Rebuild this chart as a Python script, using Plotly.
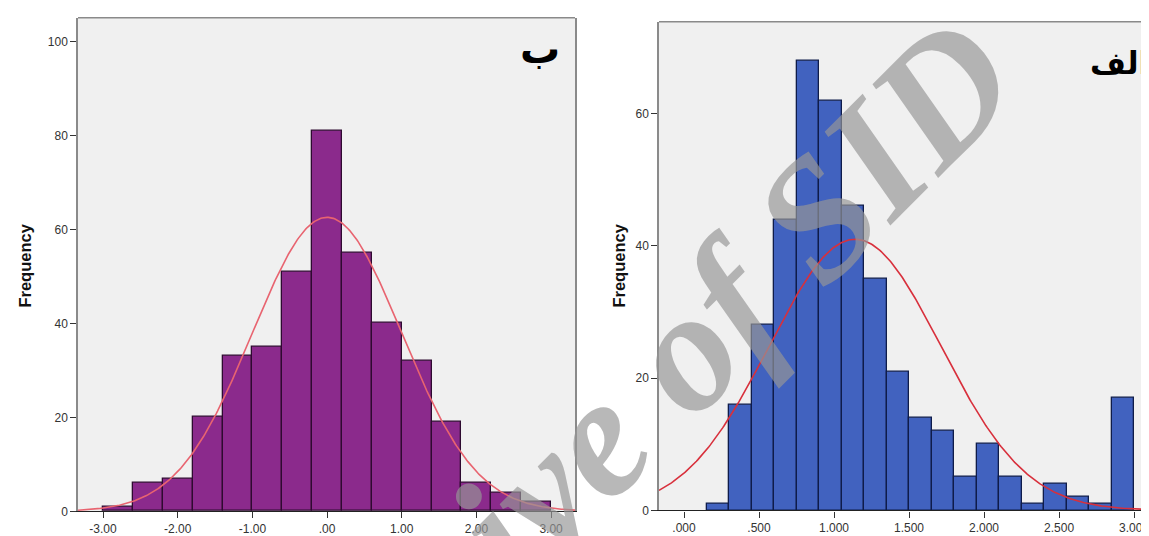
import numpy as np
import plotly.graph_objects as go

# ---------------- data ----------------
# Left panel (ب): standardized scores, bin width 0.4 starting at -3.0
left_bin_start = -3.0
left_bin_width = 0.4
left_counts = [1, 6, 7, 20, 33, 35, 51, 81, 55, 40, 32, 19, 6, 4, 2]
left_mean = 0.0
left_sd = 1.0
left_xticks = [-3, -2, -1, 0, 1, 2, 3]
left_xticklabels = ["-3.00", "-2.00", "-1.00", ".00", "1.00", "2.00", "3.00"]
left_yticks = [0, 20, 40, 60, 80, 100]

# Right panel (الف): raw scores, bin width 0.15 starting at 0.15
right_bin_start = 0.15
right_bin_width = 0.15
right_counts = [1, 16, 28, 44, 68, 62, 46, 35, 21, 14, 12, 5, 10, 5, 1, 4, 2, 1, 17]
right_mean = 1.14
right_sd = 0.572
right_xticks = [0, 0.5, 1.0, 1.5, 2.0, 2.5, 3.0]
right_xticklabels = [".000", ".500", "1.000", "1.500", "2.000", "2.500", "3.000"]
right_yticks = [0, 20, 40, 60]

panel_labels = ["ب", "الف"]
y_title = "Frequency"
watermark = "Archive of SID"

# ---------------- helpers ----------------
W, H = 1149, 536
L_XR = [-3.335, 3.32]
L_YR = [0, 105]
R_XR = [-0.1667, 3.153]
R_YR = [0, 73.9]


def centers(start, width, counts):
    return [start + width * (i + 0.5) for i in range(len(counts))]


def normal_curve(xr, mean, sd, n, width):
    xs = np.linspace(xr[0], xr[1], 400)
    ys = n * width / (sd * np.sqrt(2 * np.pi)) * np.exp(-((xs - mean) ** 2) / (2 * sd ** 2))
    return xs, ys


fig = go.Figure()

fig.add_trace(go.Bar(
    x=centers(left_bin_start, left_bin_width, left_counts), y=left_counts,
    width=left_bin_width, marker=dict(color="#8B2A8C", line=dict(color="#2E0A30", width=1.3)),
    xaxis="x", yaxis="y", showlegend=False))
lx, ly = normal_curve(L_XR, left_mean, left_sd, sum(left_counts), left_bin_width)
fig.add_trace(go.Scatter(x=lx, y=ly, mode="lines", line=dict(color="#E86470", width=1.6),
                         xaxis="x", yaxis="y", showlegend=False))

fig.add_trace(go.Bar(
    x=centers(right_bin_start, right_bin_width, right_counts), y=right_counts,
    width=right_bin_width, marker=dict(color="#4162BF", line=dict(color="#0F1C4A", width=1.3)),
    xaxis="x2", yaxis="y2", showlegend=False))
rx, ry = normal_curve(R_XR, right_mean, right_sd, sum(right_counts), right_bin_width)
fig.add_trace(go.Scatter(x=rx, y=ry, mode="lines", line=dict(color="#D8303C", width=1.6),
                         xaxis="x2", yaxis="y2", showlegend=False))

tickfont = dict(family="Liberation Sans, Arial", size=12, color="#333333")
common_x = dict(showgrid=False, zeroline=False, showline=True, linecolor="#222222", linewidth=1.3,
                ticks="outside", ticklen=6, tickcolor="#333333", tickfont=tickfont)
common_y = dict(showgrid=False, zeroline=False, showline=True, linecolor="#8A8A8A", linewidth=1.5,
                ticks="outside", ticklen=6, tickcolor="#333333", tickfont=tickfont)

lx0, lx1 = 70 / W, 567 / W
ly0, ly1 = 26 / H, 526 / H
rx0, rx1 = 651 / W, 1.0
ry0, ry1 = 27 / H, 522 / H

fig.update_layout(
    width=W, height=H, margin=dict(l=0, r=0, t=0, b=0),
    paper_bgcolor="white", plot_bgcolor="#F0F0F0", bargap=0,
    xaxis=dict(domain=[lx0, lx1], range=L_XR, tickvals=left_xticks, ticktext=left_xticklabels,
               anchor="y", **common_x),
    yaxis=dict(domain=[ly0, ly1], range=L_YR, tickvals=left_yticks, anchor="x", mirror=True, **common_y),
    xaxis2=dict(domain=[rx0, rx1], range=R_XR, tickvals=right_xticks, ticktext=right_xticklabels,
                anchor="y2", **common_x),
    yaxis2=dict(domain=[ry0, ry1], range=R_YR, tickvals=right_yticks, anchor="x2", **common_y),
)

# top borders
fig.add_shape(type="line", xref="paper", yref="paper", x0=lx0, x1=lx1, y0=ly1, y1=ly1,
              line=dict(color="#8A8A8A", width=1.5))
fig.add_shape(type="line", xref="paper", yref="paper", x0=rx0, x1=rx1, y0=ry1, y1=ry1,
              line=dict(color="#8A8A8A", width=1.5))

# y titles
for xpix in (17, 611):
    fig.add_annotation(text="<b>" + y_title + "</b>", x=xpix / W, y=1 - 261 / H, xref="paper", yref="paper",
                       xanchor="center", yanchor="middle", textangle=-90, showarrow=False,
                       font=dict(family="Liberation Sans, Arial", size=16.5, color="#111"))

# panel labels
fig.add_annotation(text="<b>" + panel_labels[0] + "</b>", x=532 / W, y=1 - 42 / H, xref="paper", yref="paper",
                   xanchor="center", yanchor="middle", showarrow=False,
                   font=dict(family="DejaVu Sans", size=40, color="black"))
fig.add_annotation(text="<b>" + panel_labels[1] + "</b>", x=1111 / W, y=1 - 56 / H, xref="paper", yref="paper",
                   xanchor="center", yanchor="middle", showarrow=False,
                   font=dict(family="DejaVu Sans", size=31, color="black"))

# watermark
fig.add_annotation(text="<b><i>" + watermark + "</i></b>", x=596 / W, y=1 - 428 / H, xref="paper", yref="paper",
                   xanchor="center", yanchor="middle", textangle=-45, showarrow=False,
                   font=dict(family="Liberation Serif", size=172, color="rgba(150,150,150,0.68)"))

fig.write_html("out.html")
